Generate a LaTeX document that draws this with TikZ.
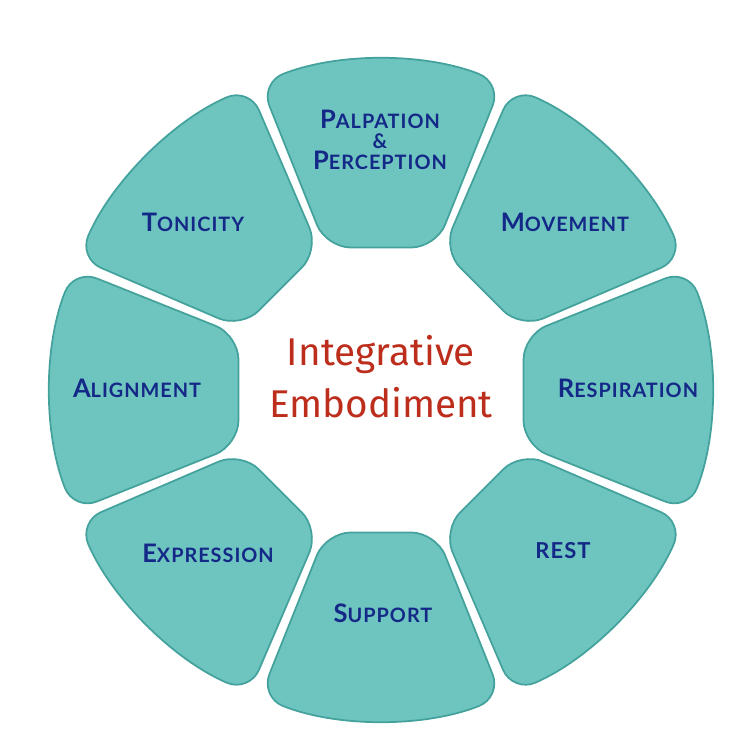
\documentclass[tikz,border=0pt]{standalone}
\usepackage{fontspec}
\usepackage{tikz}
\usetikzlibrary{positioning}
\newfontfamily\labelfont{Lato}[LetterSpace=5]
\newfontfamily\titlefont{Fira Sans}
\definecolor{petalfill}{RGB}{110,196,191}
\definecolor{petalline}{RGB}{68,162,157}
\definecolor{labelblue}{RGB}{20,40,135}
\definecolor{titlered}{RGB}{188,45,28}
% fake small caps: big initial, smaller rest
\newcommand{\capsword}[2]{{\fontsize{14.5}{16}\selectfont #1}{\fontsize{11.3}{16}\selectfont #2}}

\begin{document}
\begin{tikzpicture}[
petal/.style={draw=petalline, fill=petalfill, line width=1pt, rounded corners=14pt},
lbl/.style={text=labelblue, font=\labelfont\bfseries, align=center, inner sep=1pt},
title/.style={text=titlered, font=\titlefont\fontsize{22}{29.5}\selectfont, align=center}
]
\useasboundingbox (-7.62,-7.2) rectangle (7.38,7.8);

% eight petals round the centre
\foreach \a in {90,45,0,-45,-90,-135,180,135}{
  \begin{scope}[rotate=\a-90]
    \draw[petal] (-1.1,2.85) -- (111.46:6.6)
      arc[start angle=111.46, end angle=68.54, radius=6.6]
      -- (1.1,2.85) -- cycle;
  \end{scope}
}

\node[lbl] (palp) at (-0.02,5.0)
  {\capsword{P}{ALPATION}\\[-1pt]{\fontsize{11.5}{13}\selectfont\&}\\[0pt]\capsword{P}{ERCEPTION}};
\node[lbl] (move) at (3.68,3.36) {\capsword{M}{OVEMENT}};
\node[lbl] (resp) at (4.94,0.04) {\capsword{R}{ESPIRATION}};
\node[lbl] (rest) at (3.64,-3.22) {\fontsize{12.5}{14}\selectfont REST};
\node[lbl] (supp) at (0.04,-4.46) {\capsword{S}{UPPORT}};
\node[lbl] (expr) at (-3.46,-3.26) {\capsword{E}{XPRESSION}};
\node[lbl] (align) at (-4.88,0.04) {\capsword{A}{LIGNMENT}};
\node[lbl] (ton) at (-3.76,3.36) {\capsword{T}{ONICITY}};

\node[title] (core) at (0,0.26) {Integrative\\Embodiment};

\end{tikzpicture}
\end{document}
